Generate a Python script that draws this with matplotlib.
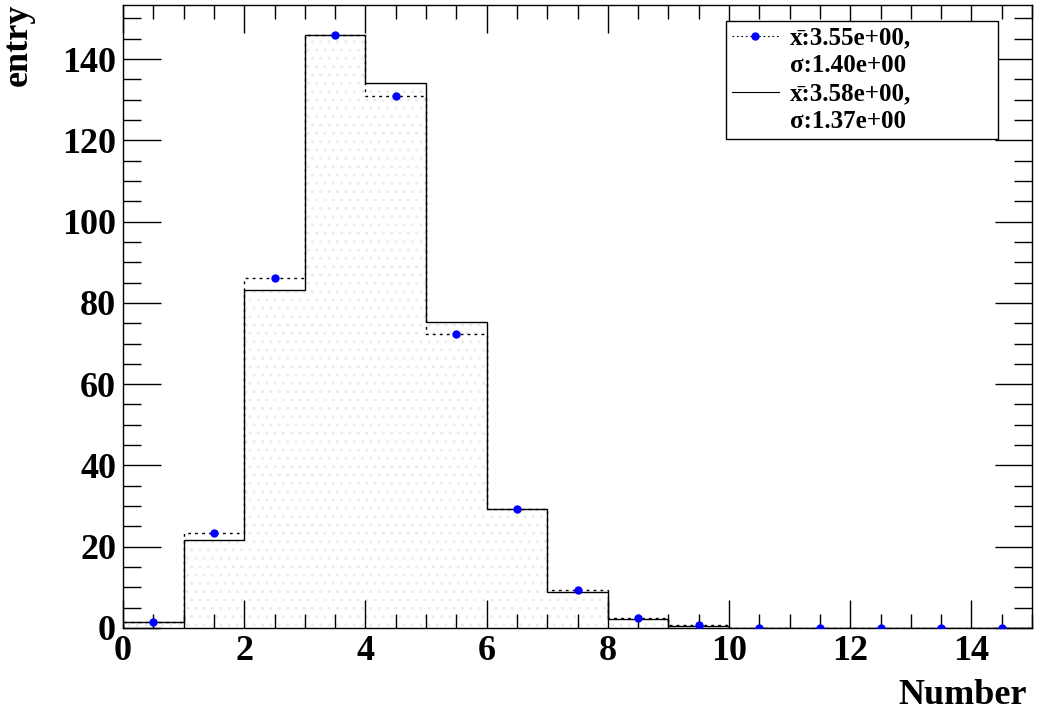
import numpy as np
import matplotlib
matplotlib.use("Agg")
import matplotlib.pyplot as plt
from matplotlib.ticker import MultipleLocator
from matplotlib.lines import Line2D

# Data
bin_edges = list(range(0, 16))
dotted_vals = [1.5, 23.4, 86.2, 146.0, 131.0, 72.3, 29.3, 9.3, 2.5, 0.7, 0, 0, 0, 0, 0]
solid_vals = [1.5, 21.7, 83.1, 146.0, 134.2, 75.2, 29.2, 8.8, 2.2, 0.4, 0, 0, 0, 0, 0]
label_dotted = ["x\u0304:3.55e+00,", "\u03c3:1.40e+00"]
label_solid = ["x\u0304:3.58e+00,", "\u03c3:1.37e+00"]
x_label = "Number"
y_label = "entry"

plt.rcParams['font.family'] = ['Liberation Serif', 'DejaVu Serif']
plt.rcParams['font.weight'] = 'bold'

fig = plt.figure(figsize=(10.45, 7.12), dpi=100)
ax = fig.add_axes([123/1045, 1 - 628/712, (1032-123)/1045, (628-5)/712])

edges = np.array(bin_edges, dtype=float)
centers = 0.5 * (edges[:-1] + edges[1:])
sv = np.array(solid_vals, dtype=float)
dv = np.array(dotted_vals, dtype=float)

# solid histogram with light fill
sv_ext = np.append(sv, sv[-1])
ax.fill_between(edges, 0, sv_ext, step='post', facecolor='white',
                edgecolor='#ececec', hatch='..', linewidth=0, zorder=1)
ax.stairs(sv, edges, color='black', linewidth=1.0, zorder=3)

# dotted histogram with points
ax.stairs(dv, edges, color='black', linewidth=1.0, linestyle=(0, (2, 3)), zorder=4)
ax.plot(centers, dv, linestyle='none', marker='o', markersize=5,
        color='blue', zorder=5)

ax.set_xlim(0, 15)
ax.set_ylim(0, 153.3)

ax.xaxis.set_major_locator(MultipleLocator(2))
ax.xaxis.set_minor_locator(MultipleLocator(0.5))
ax.yaxis.set_major_locator(MultipleLocator(20))
ax.yaxis.set_minor_locator(MultipleLocator(5))
ax.tick_params(which='both', direction='in', top=True, right=True, width=1.0,
               labelsize=26, colors='black')
ax.tick_params(axis='x', which='major', length=20, pad=5)
ax.tick_params(axis='x', which='minor', length=10)
ax.tick_params(axis='y', which='major', length=27, pad=5)
ax.tick_params(axis='y', which='minor', length=13)
for lab in ax.get_xticklabels() + ax.get_yticklabels():
    lab.set_fontweight('bold')
for sp in ax.spines.values():
    sp.set_linewidth(1.0)

fig.text(1027/1045, 1 - 695/712, x_label, ha='right', va='center',
         fontsize=26, fontweight='bold')
fig.text(18/1045, 1 - 3/712, y_label, ha='center', va='top', rotation=90,
         fontsize=26, fontweight='bold')

blank = Line2D([], [], linestyle='none', marker=None)
handles = [
    Line2D([], [], color='black', linestyle=(0, (1.5, 2.5)), linewidth=0.8,
           marker='o', markersize=5, markerfacecolor='blue', markeredgecolor='blue'),
    blank,
    Line2D([], [], color='black', linewidth=0.8),
    blank,
]
labels = [label_dotted[0], label_dotted[1], label_solid[0], label_solid[1]]
x0 = (726 - 123) / 909
w = (998 - 726) / 909
y1 = (628 - 21) / 623
h = (137 - 21) / 623
leg = ax.legend(handles, labels, loc='upper left',
                bbox_to_anchor=(x0, y1 - h, w, h), mode='expand',
                frameon=True, fancybox=False, edgecolor='black', framealpha=1,
                prop={'size': 18, 'weight': 'bold'}, handlelength=1.9,
                borderpad=0.22, labelspacing=0.2, handletextpad=0.45,
                borderaxespad=0)
leg.get_frame().set_linewidth(1.0)

fig.savefig('out.png', dpi=100)
